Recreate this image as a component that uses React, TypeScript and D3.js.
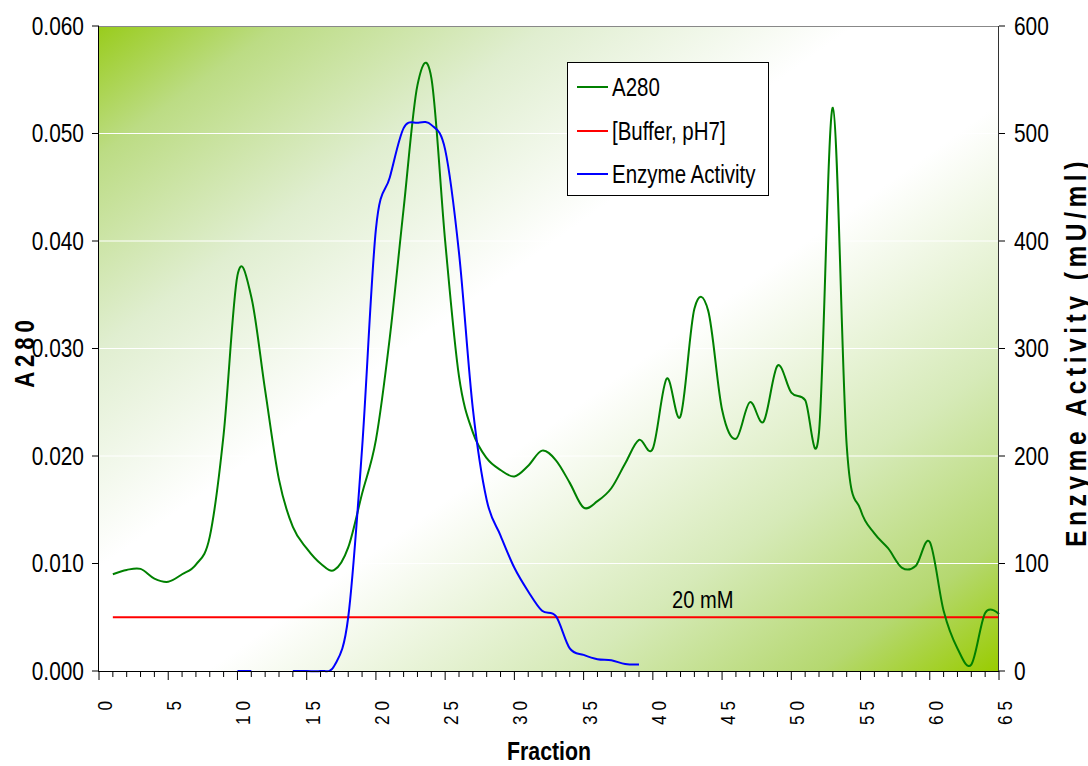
import React from 'react';
import * as d3 from 'd3';

// A280 readings, fractions 1..65
const a280 = [
  0.009, 0.0094, 0.0095, 0.0086, 0.0083, 0.009, 0.0099, 0.0125, 0.022, 0.0368,
  0.0348, 0.0261, 0.0178, 0.0134, 0.0114, 0.01, 0.0094, 0.0115, 0.0165, 0.0215,
  0.031, 0.043, 0.0545, 0.0552, 0.04, 0.0274, 0.0222, 0.0198, 0.0187, 0.0181,
  0.0191, 0.0205, 0.0196, 0.0175, 0.0152, 0.0158, 0.017, 0.0193, 0.0215, 0.0207,
  0.0272, 0.0237, 0.0337, 0.0335, 0.0243, 0.0216, 0.025, 0.0232, 0.0284, 0.0259,
  0.0252, 0.0222, 0.0524, 0.021, 0.015, 0.0128, 0.0114, 0.0096, 0.0098, 0.012,
  0.0056, 0.0021, 0.0006, 0.0054, 0.0053,
];

// enzyme activity (mU/ml); null = not measured
const enzymeFractions = [10, 11, 12, 13, 14, 15, 16, 17, 18, 19, 20, 21, 22, 23, 24, 25, 26, 27, 28, 29, 30, 31, 32, 33, 34, 35, 36, 37, 38, 39];
const enzymeValues = [0, 0, null, null, 0, 0, 0, 5, 50, 207, 411, 459, 505, 510, 508, 485, 389, 244, 159, 126, 96, 74, 56, 51, 21, 15, 11, 10, 6.5, 6];

const bufferFractions = [1, 65];
const bufferValues = [0.005, 0.005];

const leftTicks = [0, 0.01, 0.02, 0.03, 0.04, 0.05, 0.06];
const rightTicks = [0, 100, 200, 300, 400, 500, 600];
const xMajor = [0, 5, 10, 15, 20, 25, 30, 35, 40, 45, 50, 55, 60, 65];

// Arial-metric font squeezed horizontally to look like Arial Narrow
const FONT = "'Liberation Sans', Arial, sans-serif";
const NARROW = 0.82;

const W = 1088;
const H = 766;
const m = { left: 99, right: 999, top: 26, bottom: 671 };

function T({ x, y, rot, children, ...rest }: any) {
  const r = rot ? ` rotate(${rot})` : '';
  return (
    <text transform={`translate(${x},${y})${r} scale(${NARROW},1)`} {...rest}>
      {children}
    </text>
  );
}

export default function App() {
  const x = d3.scaleLinear().domain([0, 65]).range([m.left, m.right]);
  const y = d3.scaleLinear().domain([0, 0.06]).range([m.bottom, m.top]);
  const y2 = d3.scaleLinear().domain([0, 600]).range([m.bottom, m.top]);

  const curve = d3.curveCatmullRom.alpha(0);

  const greenLine = d3
    .line<number>()
    .x((d, i) => x(i + 1))
    .y((d) => y(d))
    .curve(curve)(a280);

  const enzymePts = enzymeFractions.map((f, i) => ({ f, v: enzymeValues[i] }));
  const blueLine = d3
    .line<{ f: number; v: number | null }>()
    .defined((d) => d.v !== null)
    .x((d) => x(d.f))
    .y((d) => y2(d.v as number))
    .curve(curve)(enzymePts);

  const redLine = d3
    .line<number>()
    .x((d, i) => x(bufferFractions[i]))
    .y((d) => y(d))(bufferValues);

  const minor = x.ticks(65);
  const xSpacing = 6;

  return (
    <div style={{ position: 'absolute', left: 0, top: 0 }}>
      <svg width={W} height={H} style={{ display: 'block', fontFamily: FONT }}>
        <defs>
          <linearGradient id="bg" x1="0" y1="0" x2="1" y2="1">
            <stop offset="0" stopColor="#99cc1c" />
            <stop offset="0.1" stopColor="#bcdc84" />
            <stop offset="0.25" stopColor="#e0eed0" />
            <stop offset="0.42" stopColor="#ffffff" />
            <stop offset="0.56" stopColor="#ffffff" />
            <stop offset="0.76" stopColor="#d6eab8" />
            <stop offset="0.9" stopColor="#b5d870" />
            <stop offset="1" stopColor="#99cc00" />
          </linearGradient>
        </defs>
        <rect width={W} height={H} fill="#fff" />
        <rect
          x={m.left}
          y={m.top}
          width={m.right - m.left}
          height={m.bottom - m.top}
          fill="url(#bg)"
        />

        {/* gridlines */}
        {leftTicks.slice(1, -1).map((t) => (
          <line key={t} x1={m.left} x2={m.right} y1={y(t)} y2={y(t)} stroke="#fff" strokeWidth={1} />
        ))}
        <line x1={m.left} x2={m.right} y1={m.top + 0.5} y2={m.top + 0.5} stroke="#888" strokeWidth={1} />

        {/* series */}
        <path d={redLine || ''} fill="none" stroke="#ff0000" strokeWidth={2} />
        <path d={greenLine || ''} fill="none" stroke="#008000" strokeWidth={2} />
        <path d={blueLine || ''} fill="none" stroke="#0000ff" strokeWidth={2} />

        <T x={x(43.6)} y={608} textAnchor="middle" fontSize={24.5} fill="#000">20 mM</T>

        {/* left axis */}
        <line x1={m.left - 0.5} x2={m.left - 0.5} y1={m.top} y2={m.bottom} stroke="#000" />
        {leftTicks.map((t) => (
          <g key={t}>
            <line x1={m.left - 7} x2={m.left} y1={y(t)} y2={y(t)} stroke="#000" />
            <T x={84} y={y(t)} dy="0.35em" textAnchor="end" fontSize={25.5}>
              {d3.format('.3f')(t)}
            </T>
          </g>
        ))}

        {/* right axis */}
        <line x1={m.right - 0.5} x2={m.right - 0.5} y1={m.top} y2={m.bottom} stroke="#333" />
        {rightTicks.map((t) => (
          <g key={t}>
            <line x1={m.right} x2={m.right + 6} y1={y2(t)} y2={y2(t)} stroke="#000" />
            <T x={1014} y={y2(t)} dy="0.35em" textAnchor="start" fontSize={25.5}>
              {t}
            </T>
          </g>
        ))}

        {/* bottom axis */}
        <line x1={m.left - 1} x2={m.right} y1={m.bottom + 0.5} y2={m.bottom + 0.5} stroke="#000" />
        {minor.map((t) => (
          <line
            key={t}
            x1={x(t)}
            x2={x(t)}
            y1={m.bottom}
            y2={m.bottom + (t % 5 === 0 ? 9 : 6)}
            stroke="#000"
          />
        ))}
        {xMajor.map((t) => (
          <T
            key={t}
            x={x(t) + 13}
            y={701 - xSpacing * NARROW}
            rot={-90}
            textAnchor="end"
            fontSize={21}
            letterSpacing={xSpacing}
          >
            {t}
          </T>
        ))}

        {/* axis titles */}
        <T x={549} y={760} textAnchor="middle" fontSize={26} fontWeight="bold">
          Fraction
        </T>
        <T
          x={34}
          y={(m.top + m.bottom) / 2 + 3}
          rot={-90}
          textAnchor="middle"
          fontSize={27}
          fontWeight="bold"
          letterSpacing={6}
        >
          A280
        </T>
        <T
          x={1086}
          y={352}
          rot={-90}
          textAnchor="middle"
          fontSize={30}
          fontWeight="bold"
          letterSpacing={5.5}
        >
          Enzyme Activity (mU/ml)
        </T>

        {/* legend */}
        <rect x={567.5} y={62.5} width={201} height={133} fill="#fff" stroke="#000" />
        {[
          { label: 'A280', color: '#008000', yy: 87 },
          { label: '[Buffer, pH7]', color: '#ff0000', yy: 131 },
          { label: 'Enzyme Activity', color: '#0000ff', yy: 174 },
        ].map((d) => (
          <g key={d.label}>
            <line x1={577} x2={608} y1={d.yy} y2={d.yy} stroke={d.color} strokeWidth={2} />
            <T x={612} y={d.yy} dy="0.35em" fontSize={25}>
              {d.label}
            </T>
          </g>
        ))}
      </svg>
    </div>
  );
}
